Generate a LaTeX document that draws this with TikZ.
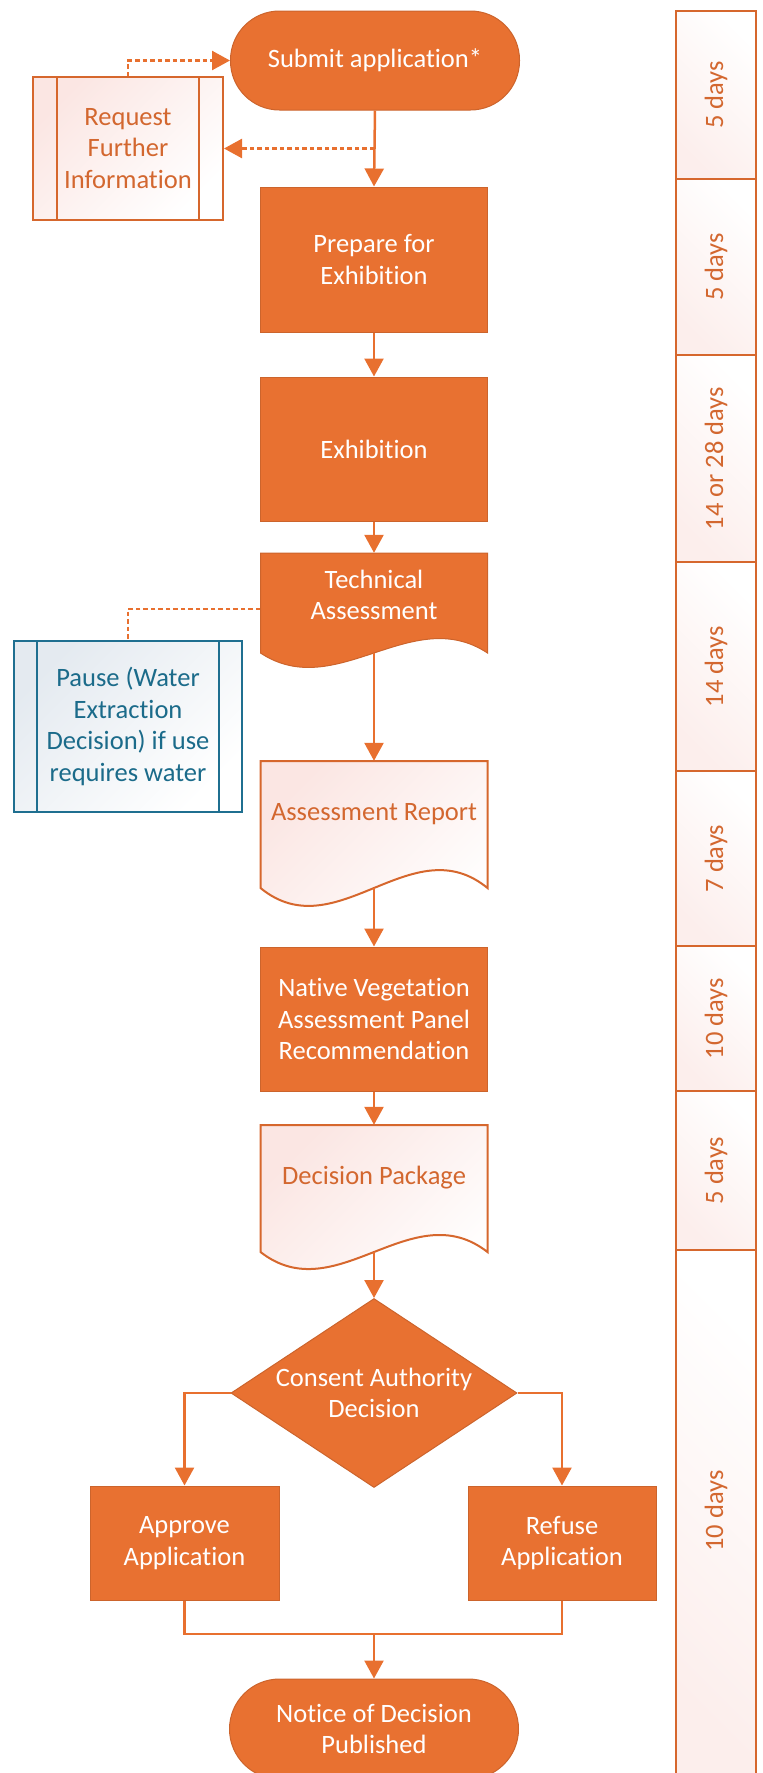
\documentclass[tikz,border=0pt]{standalone}
\usepackage{fontspec}
\setmainfont{Carlito}[Ligatures=NoCommon]
\usetikzlibrary{shapes.geometric,arrows.meta}
\definecolor{ofill}{HTML}{E87131}
\definecolor{oedge}{HTML}{CC642C}
\definecolor{oline}{HTML}{E8702F}
\definecolor{olight}{HTML}{D6672D}
\definecolor{otext}{HTML}{D3672F}
\definecolor{opink}{HTML}{FBE6E3}
\definecolor{spink}{HTML}{FCEEEC}
\definecolor{bline}{HTML}{1F6F90}
\definecolor{btext}{HTML}{1B6B8A}
\definecolor{bpale}{HTML}{E4EAF0}
\begin{document}
\begin{tikzpicture}[x=1pt,y=-1pt,
  every node/.style={font=\fontsize{26.5pt}{31.7pt}\selectfont, align=center, inner sep=0pt},
  fillbox/.style={rectangle, draw=oedge, line width=1pt, fill=ofill, text=white},
  termbox/.style={fillbox, rounded corners=49pt, minimum width=289pt, minimum height=99pt},
  procbox/.style={rectangle, draw=olight, line width=2pt, top color=opink, middle color=white, bottom color=white, shading angle=45, text=otext},
  pausebox/.style={rectangle, draw=bline, line width=2pt, top color=bpale, bottom color=white, shading angle=45, text=btext},
  docfill/.style={draw=oedge, line width=1pt, fill=ofill},
  doclight/.style={draw=olight, line width=2pt, top color=opink, middle color=white, bottom color=white, shading angle=45},
  frame/.style={rectangle, minimum width=227pt},
  wtext/.style={text=white},
  otxt/.style={text=otext},
  conn/.style={draw=oline, line width=2.5pt, -{Triangle[width=19pt,length=18pt]}},
  plain/.style={draw=oline, line width=2.5pt},
  dotconn/.style={conn, dash pattern=on 4.5pt off 3pt},
  seg/.style={rectangle, draw=olight, line width=2pt, top color=white, middle color=white, bottom color=spink, shading angle=-45, minimum width=80pt},
  daylbl/.style={text=otext, rotate=90}
]
\clip (0,0) rectangle (763,1773);
\useasboundingbox (0,0) rectangle (763,1773);

% ---- timeline ----
\node[seg, minimum height=168pt] (t1) at (716,95) {};
\node[seg, minimum height=176pt] (t2) at (716,267) {};
\node[seg, minimum height=207pt] (t3) at (716,458.5) {};
\node[seg, minimum height=209pt] (t4) at (716,666.5) {};
\node[seg, minimum height=175pt] (t5) at (716,858.5) {};
\node[seg, minimum height=145pt] (t6) at (716,1018.5) {};
\node[seg, minimum height=159pt] (t7) at (716,1170.5) {};
\node[seg, minimum height=530pt] (t8) at (716,1515) {};
\node[daylbl] (l1) at (t1.center) {5 days};
\node[daylbl] (l2) at (t2.center) {5 days};
\node[daylbl] (l3) at (t3.center) {14 or 28 days};
\node[daylbl] (l4) at (t4.center) {14 days};
\node[daylbl] (l5) at (t5.center) {7 days};
\node[daylbl] (l6) at (t6.center) {10 days};
\node[daylbl] (l7) at (t7.center) {5 days};
\node[daylbl] (l8) at (716,1511) {10 days};

% ---- top ----
\node[termbox] (submit) at (375,60.5) {Submit application*};
\node[procbox, minimum width=190pt, minimum height=143pt] (req) at (128,148.5) {Request\\Further\\Information};
\draw[olight, line width=2pt] ([xshift=25pt]req.north west) -- ([xshift=25pt]req.south west);
\draw[olight, line width=2pt] ([xshift=-25pt]req.north east) -- ([xshift=-25pt]req.south east);

\node[fillbox, minimum width=227pt, minimum height=145pt] (prep) at (374,259.5) {Prepare for\\Exhibition};
\node[fillbox, minimum width=227pt, minimum height=144pt] (exh) at (374,449) {Exhibition};

% Technical Assessment (document shape)
\path[docfill] (260.5,553) -- (487.5,553) -- (487.5,653) .. controls (411.8,603) and (336.2,703) .. (260.5,653) -- cycle;
\node[frame, minimum height=100pt] (tech) at (374,603) {};
\node[wtext] (techlbl) at (374,595) {Technical\\Assessment};

% Pause box
\node[pausebox, minimum width=228pt, minimum height=171pt] (pause) at (128,726.5) {Pause (Water\\Extraction\\Decision) if use\\requires water};
\draw[bline, line width=2pt] ([xshift=24pt]pause.north west) -- ([xshift=24pt]pause.south west);
\draw[bline, line width=2pt] ([xshift=-24pt]pause.north east) -- ([xshift=-24pt]pause.south east);

% Assessment Report
\path[doclight] (260.5,761) -- (487.5,761) -- (487.5,888) .. controls (411.8,826) and (336.2,950) .. (260.5,888) -- cycle;
\node[frame, minimum height=127pt] (report) at (374,824.5) {};
\node[otxt] (reportlbl) at (374,814) {Assessment Report};

\node[fillbox, minimum width=227pt, minimum height=144pt] (nvap) at (374,1019) {Native Vegetation\\Assessment Panel\\Recommendation};

% Decision Package
\path[doclight] (260.5,1125) -- (487.5,1125) -- (487.5,1252) .. controls (411.8,1193) and (336.2,1311) .. (260.5,1252) -- cycle;
\node[frame, minimum height=127pt] (pkg) at (374,1188.5) {};
\node[otxt] (pkglbl) at (374,1178) {Decision Package};

% Decision diamond
\node[diamond, draw=oedge, line width=1pt, fill=ofill, minimum width=286pt, minimum height=189pt, shape aspect=1.513] (cad) at (374,1393) {};
\node[wtext] (cadlbl) at (374,1393) {Consent Authority\\Decision};

\node[fillbox, minimum width=189pt, minimum height=114pt] (app) at (184.5,1543) {Approve\\Application};
\node[fillbox, minimum width=188pt, minimum height=114pt] (ref) at (562,1543) {Refuse\\Application};

\node[fillbox, rounded corners=50pt, minimum width=289pt, minimum height=100pt] (notice) at (374,1729) {Notice of Decision\\Published};

% ---- connectors ----
\coordinate (split) at (374,148.5);
\coordinate (merge) at (374,1634);
\draw[dotconn] (req.north) |- (submit.west);
\draw[dotconn] (split) -- (req.east);
\draw[conn] (submit.south) -- (prep.north);
\draw[conn] (prep.south) -- (exh.north);
\draw[conn] (exh.south) -- (tech.north);
\draw[dash pattern=on 4.5pt off 3pt, draw=oline, line width=2.5pt] ([yshift=-6pt]tech.west) -| (pause.north);
\draw[conn] (tech.south) -- (report.north);
\draw[conn] (report.south) -- (nvap.north);
\draw[conn] (nvap.south) -- (pkg.north);
\draw[conn] (pkg.south) -- (cad.north);
\draw[conn] (cad.west) -| (app.north);
\draw[conn] (cad.east) -| (ref.north);
\draw[plain] (app.south) |- (merge) -| (ref.south);
\draw[conn] (merge) -- (notice.north);
\end{tikzpicture}
\end{document}
